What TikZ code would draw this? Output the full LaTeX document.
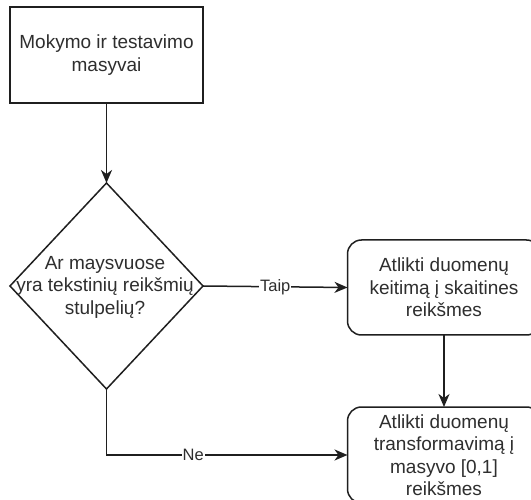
\documentclass[tikz,border=0pt]{standalone}
\usepackage{fontspec}
\setmainfont{Liberation Sans}
\usetikzlibrary{shapes.geometric,arrows.meta}
\begin{document}
\begin{tikzpicture}[x=1pt,y=-1pt,
  line width=1.5pt,
  every node/.style={inner sep=0pt,outer sep=0pt},
  txt/.style={font=\fontsize{19}{22.5}\selectfont,align=center,text=black!82},
  stepbox/.style={draw=black!88,minimum width=193pt,minimum height=96pt,txt},
  roundbox/.style={stepbox,rounded corners=14pt},
  decision/.style={draw=black!88,diamond,minimum width=193pt,minimum height=206pt},
  flow/.style={draw=black!88,-{Stealth[length=13pt,width=11pt,inset=4pt]}},
  edgelabel/.style={fill=white,inner sep=1pt,font=\fontsize{16.5}{19}\selectfont,text=black!82}]
\clip (0,0) rectangle (531,500);
\fill[white] (0,0) rectangle (531,500);

\node[stepbox] (data) at (106.5,55) {Mokymo ir testavimo\\masyvai};
\node[decision] (q) at (106.5,286) {};
\node[txt] (qtext) at (105,287) {Ar maysvuose\\yra tekstinių reikšmių\\stulpelių?};
\node[roundbox,minimum height=95pt] (conv) at (444,287.5) {Atlikti duomenų\\keitimą į skaitines\\reikšmes};
\node[roundbox] (norm) at (444,455) {Atlikti duomenų\\transformavimą į\\masyvo [0,1]\\reikšmes};

\draw[flow] (data) -- (q.north);
\draw[flow] (q.east) -- node[edgelabel] {Taip} (conv.west);
\draw[flow] (conv) -- (norm);
\draw[flow] (q.south) |- node[edgelabel,pos=0.68] {Ne} (norm.west);
\end{tikzpicture}
\end{document}
